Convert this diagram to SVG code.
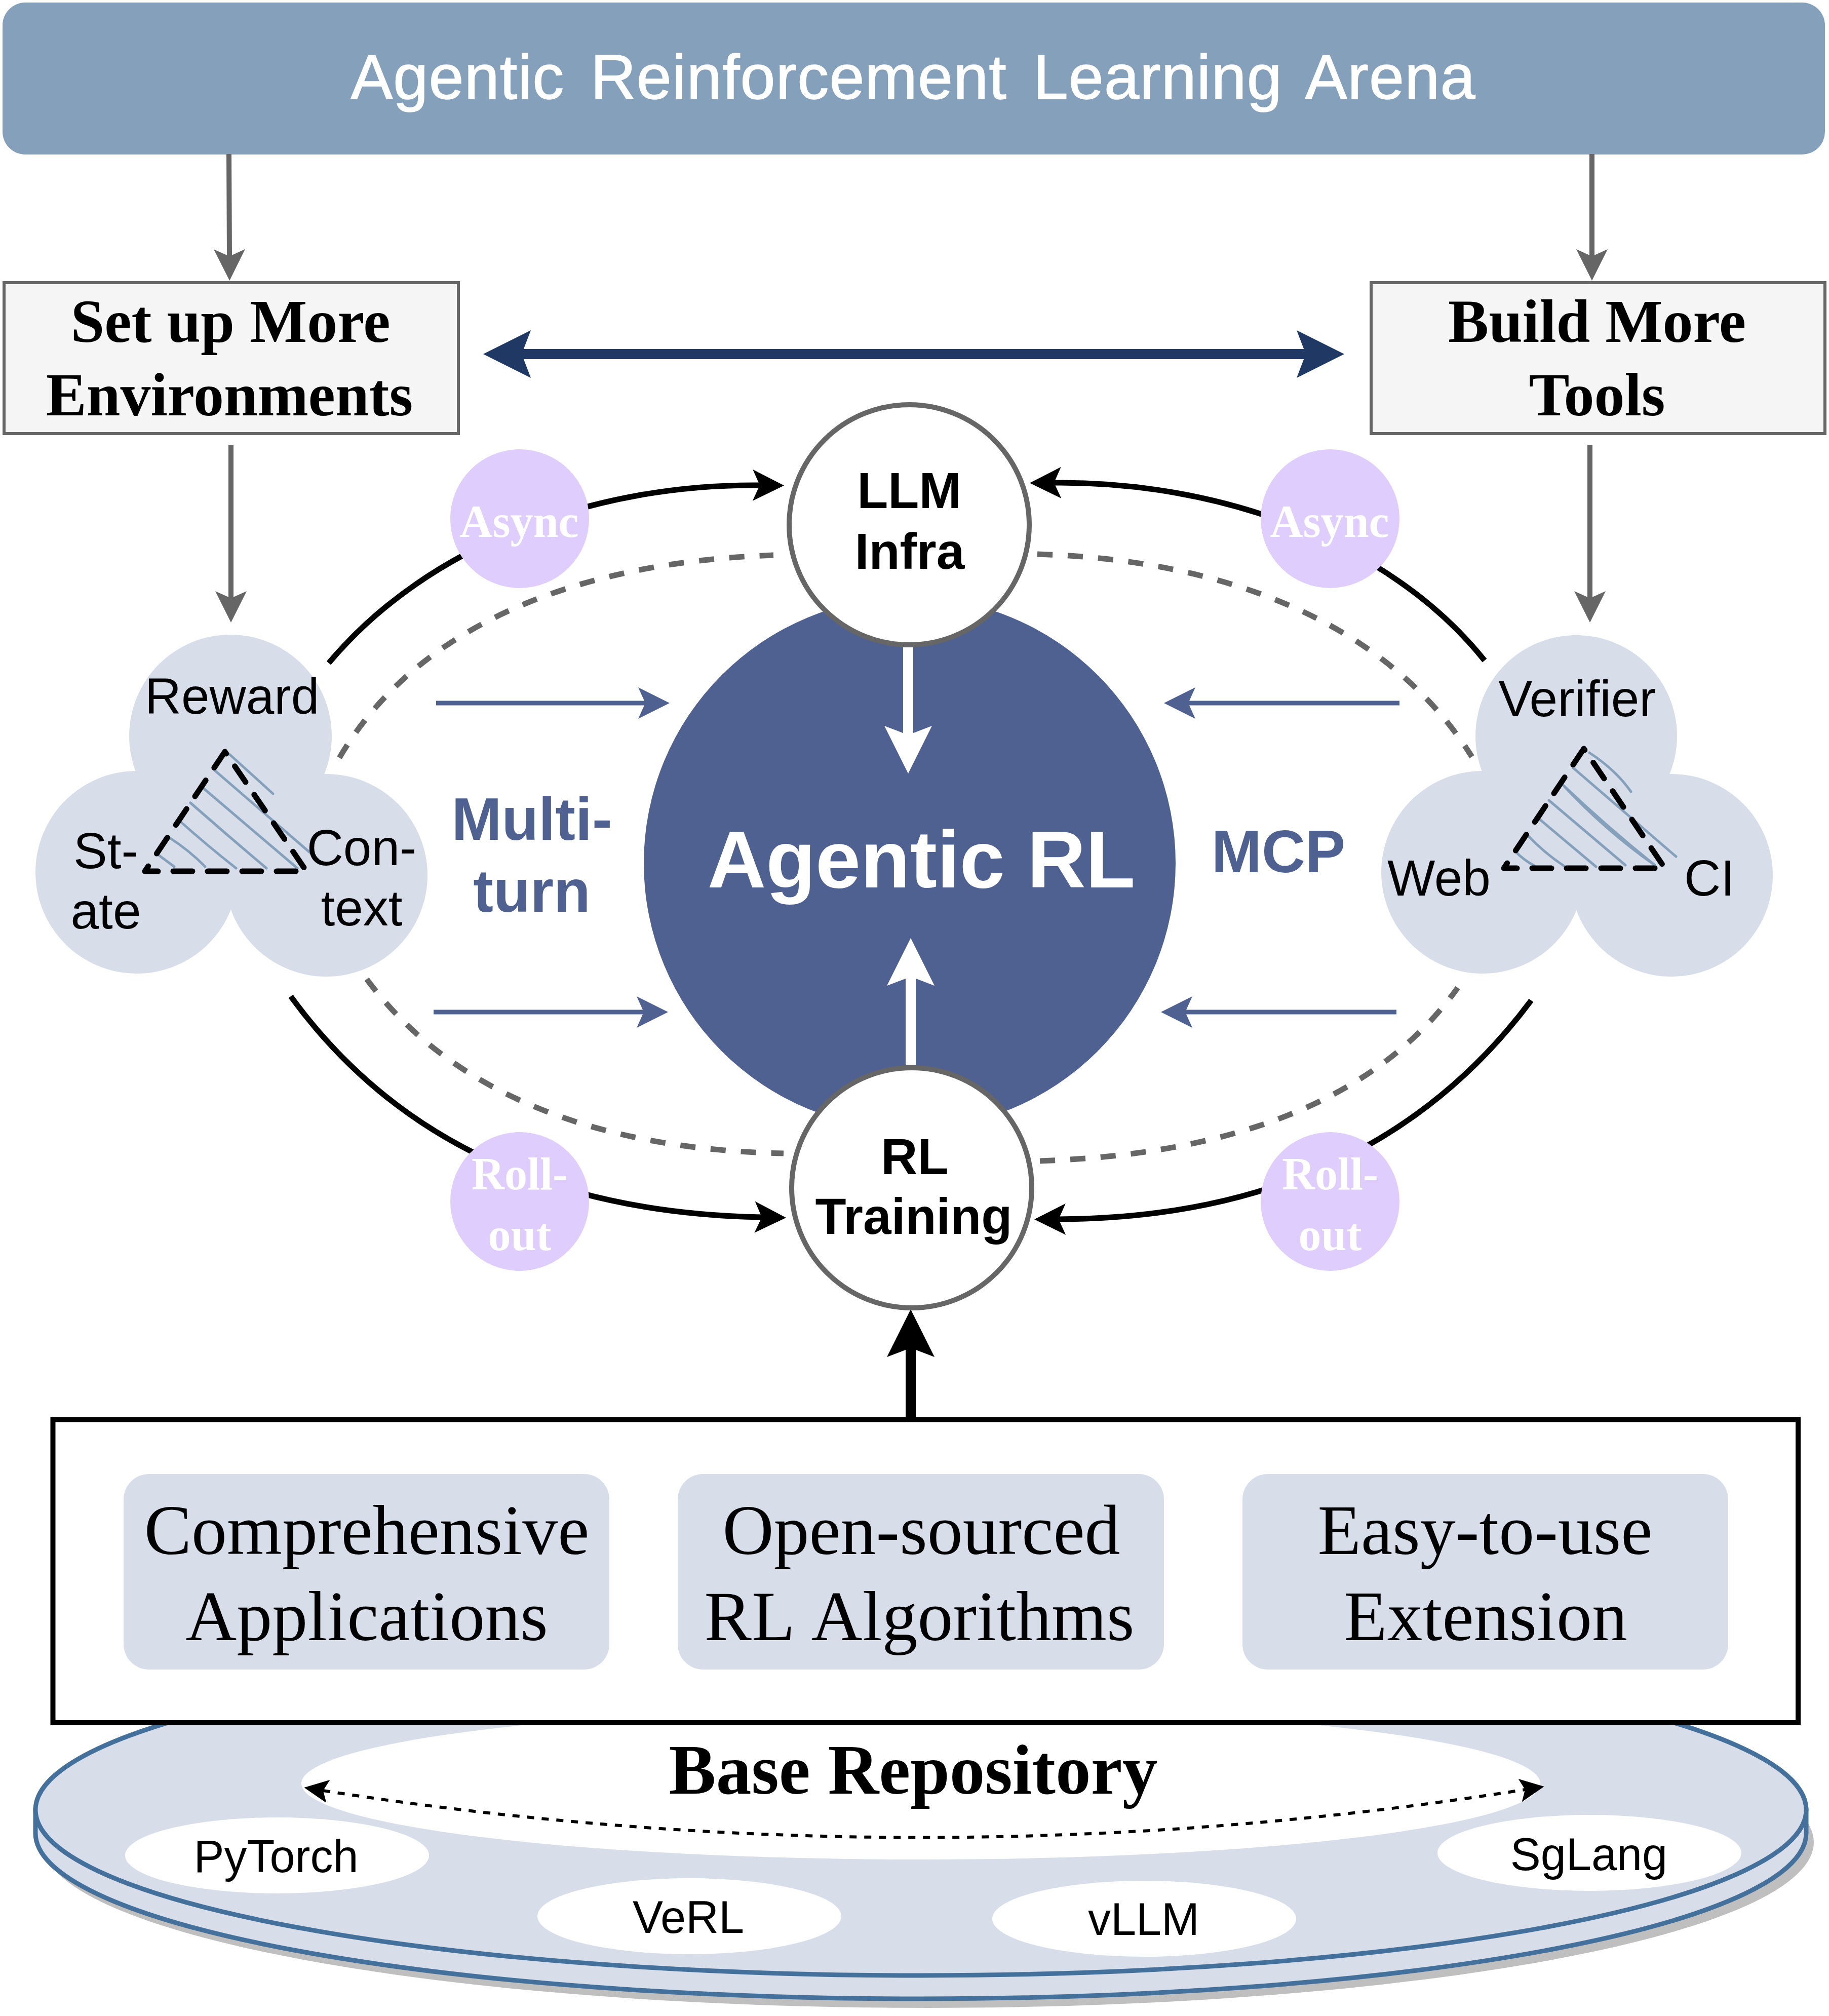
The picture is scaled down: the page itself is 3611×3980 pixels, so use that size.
<svg xmlns="http://www.w3.org/2000/svg" width="3611" height="3980" viewBox="0 0 3611 3980">
<style>
text{text-anchor:middle}
.sans{font-family:"Liberation Sans",Arial,sans-serif}
.serif{font-family:"Liberation Serif","Times New Roman",serif}
.b{font-weight:bold}
.blob{fill:#d7deea}
.badge{fill:#decdfd}
.badgetxt{font-family:"Liberation Serif",serif;font-weight:bold;font-size:90px;fill:#fff}
.hub{fill:#fff;stroke:#666;stroke-width:10}
.hubtxt{font-family:"Liberation Sans",sans-serif;font-weight:bold;font-size:100px;fill:#000}
.lbl{font-family:"Liberation Sans",sans-serif;font-size:100px;fill:#000}
.tool{font-family:"Liberation Sans",sans-serif;font-size:90px;fill:#000}
.card{fill:#d7deea}
.cardtxt{font-family:"Liberation Serif",serif;font-size:140px;fill:#000}
.boxt{fill:#f5f5f5;stroke:#666;stroke-width:6}
.boxtxt{font-family:"Liberation Serif",serif;font-weight:bold;font-size:120px;fill:#000}
.side{font-family:"Liberation Sans",sans-serif;font-weight:bold;font-size:119px;fill:#4e6190}
.wire{fill:none}
.grey{stroke:#666;stroke-width:10;marker-end:url(#mGrey)}
.arc{stroke:#000;stroke-width:11;marker-end:url(#mBlack)}
.dash{stroke:#666;stroke-width:11;stroke-dasharray:30 30}
.blue{stroke:#4e6190;stroke-width:9;marker-end:url(#mBlue)}
.tri{fill:none;stroke:#000;stroke-width:11;stroke-dasharray:38 30;stroke-linecap:round;stroke-linejoin:round}
.hatch{fill:none;stroke:#84a0bb;stroke-width:5;stroke-linecap:round}
.tiny{fill:#fff}
</style>
<defs>
<marker id="mGrey" markerUnits="userSpaceOnUse" markerWidth="62" markerHeight="62" refX="14" refY="31" orient="auto"><path d="M0 0L62 31L0 62L14 31Z" fill="#666"/></marker>
<marker id="mBlack" markerUnits="userSpaceOnUse" markerWidth="62" markerHeight="62" refX="14" refY="31" orient="auto"><path d="M0 0L62 31L0 62L14 31Z" fill="#000"/></marker>
<marker id="mBlue" markerUnits="userSpaceOnUse" markerWidth="62" markerHeight="62" refX="14" refY="31" orient="auto"><path d="M0 0L62 31L0 62L14 31Z" fill="#4e6190"/></marker>
<marker id="mWhite" markerUnits="userSpaceOnUse" markerWidth="94" markerHeight="94" refX="18" refY="47" orient="auto"><path d="M0 0L94 47L0 94L18 47Z" fill="#fff"/></marker>
<marker id="mBigBlack" markerUnits="userSpaceOnUse" markerWidth="94" markerHeight="94" refX="18" refY="47" orient="auto"><path d="M0 0L94 47L0 94L18 47Z" fill="#000"/></marker>
<marker id="mNavy" markerUnits="userSpaceOnUse" markerWidth="94" markerHeight="94" refX="18" refY="47" orient="auto-start-reverse"><path d="M0 0L94 47L0 94L18 47Z" fill="#1f3864"/></marker>
<marker id="mDot" markerUnits="userSpaceOnUse" markerWidth="48" markerHeight="46" refX="10" refY="23" orient="auto-start-reverse"><path d="M0 0L48 23L0 46L10 23Z" fill="#000"/></marker>
</defs>

<g id="repository">
<ellipse cx="1832" cy="3637" rx="1749" ry="327" fill="#bfbfbf"/>
<path d="M70 3573L70 3619A1748 327 0 0 0 3566 3619L3566 3573Z" fill="#d7deea" stroke="#44719b" stroke-width="9"/>
<ellipse cx="1818" cy="3573" rx="1748" ry="327" fill="#d7deea" stroke="#44719b" stroke-width="9"/>
<ellipse cx="1818" cy="3521" rx="1223" ry="150" fill="#fff"/>
<text class="serif b" x="1803" y="3541" font-size="139.500">Base Repository</text>
</g>
<g id="pytorch"><ellipse class="tiny" cx="547" cy="3663" rx="300" ry="75"/><text class="tool" x="545" y="3696">PyTorch</text></g>
<g id="verl"><ellipse class="tiny" cx="1361" cy="3783" rx="300" ry="75"/><text class="tool" x="1359" y="3816">VeRL</text></g>
<g id="vllm"><ellipse class="tiny" cx="2259" cy="3788" rx="300" ry="75"/><text class="tool" x="2258" y="3820">vLLM</text></g>
<g id="sglang"><ellipse class="tiny" cx="3138" cy="3658" rx="300" ry="75"/><text class="tool" x="3137" y="3692">SgLang</text></g>

<g id="title"><rect x="5" y="5" width="3598" height="300" rx="45" fill="#84a0bb"/>
<text class="sans" x="1803" y="195" font-size="124" fill="#fff" stroke="#fff" stroke-width="1.500" letter-spacing="1.200" word-spacing="16">Agentic Reinforcement Learning Arena</text></g>

<g id="env"><rect class="boxt" x="8" y="558" width="897" height="298"/>
<text class="boxtxt" x="455" y="675">Set up More</text><text class="boxtxt" x="453" y="820">Environments</text></g>
<g id="tools"><rect class="boxt" x="2707" y="558" width="896" height="298"/>
<text class="boxtxt" x="3153" y="675">Build More</text><text class="boxtxt" x="3153" y="820">Tools</text></g>

<g id="agentic-rl"><circle cx="1796" cy="1704" r="525" fill="#4e6190"/>
<text class="sans b" x="1819" y="1752" font-size="160" fill="#fff">Agentic RL</text></g>

<g id="connectors">
<path class="wire grey" d="M452 304L453 506"/>
<path class="wire grey" d="M3143 304L3143 506"/>
<path class="wire grey" d="M456 878L456 1181"/>
<path class="wire grey" d="M3139 878L3139 1181"/>
<path class="wire" stroke="#1f3864" stroke-width="20" marker-start="url(#mNavy)" marker-end="url(#mNavy)" d="M1030 699L2578 699"/>
<path class="wire arc" d="M649 1309C850 1070 1180 955 1500 958"/>
<path class="wire arc" d="M2931 1304C2740 1065 2400 950 2081 953"/>
<path class="wire arc" d="M574 1967C780 2250 1090 2395 1504 2403"/>
<path class="wire arc" d="M3023 1975C2810 2260 2500 2405 2090 2407"/>
<path class="wire dash" d="M670 1496C820 1240 1130 1110 1527 1096"/>
<path class="wire dash" d="M2048 1094C2420 1105 2740 1230 2906 1494"/>
<path class="wire dash" d="M724 1933C900 2170 1200 2270 1547 2277"/>
<path class="wire dash" d="M2053 2292C2400 2280 2705 2190 2878 1950"/>
<path class="wire blue" d="M861 1388L1274 1388"/>
<path class="wire blue" d="M2763 1388L2346 1388"/>
<path class="wire blue" d="M856 1998L1271 1998"/>
<path class="wire blue" d="M2757 1998L2340 1998"/>
<path class="wire" stroke="#fff" stroke-width="20" marker-end="url(#mWhite)" d="M1793 1278L1793 1451"/>
<path class="wire" stroke="#fff" stroke-width="20" marker-end="url(#mWhite)" d="M1798 2103L1798 1928"/>
<path class="wire" stroke="#000" stroke-width="20" marker-end="url(#mBigBlack)" d="M1798 2798L1798 2661"/>
<path class="wire" stroke="#000" stroke-width="6" stroke-dasharray="14 15" marker-start="url(#mDot)" marker-end="url(#mDot)" d="M638 3535Q1825 3721 3011 3533"/>
</g>

<g id="async-left"><circle class="badge" cx="1026" cy="1024" r="137"/><text class="badgetxt" x="1025" y="1060">Async</text></g>
<g id="async-right"><circle class="badge" cx="2626" cy="1024" r="137"/><text class="badgetxt" x="2625" y="1060">Async</text></g>
<g id="rollout-left"><circle class="badge" cx="1026" cy="2372" r="137"/><text class="badgetxt" x="1026" y="2348">Roll-</text><text class="badgetxt" x="1026" y="2468">out</text></g>
<g id="rollout-right"><circle class="badge" cx="2626" cy="2372" r="137"/><text class="badgetxt" x="2626" y="2348">Roll-</text><text class="badgetxt" x="2626" y="2468">out</text></g>

<g id="llm-infra"><circle class="hub" cx="1795" cy="1036" r="237"/><text class="hubtxt" x="1795" y="1003">LLM</text><text class="hubtxt" x="1796" y="1123">Infra</text></g>
<g id="rl-training"><circle class="hub" cx="1800" cy="2345" r="237"/><text class="hubtxt" x="1806" y="2318">RL</text><text class="hubtxt" x="1804" y="2436">Training</text></g>

<g id="multi-turn"><text class="side" x="1050" y="1658">Multi-</text><text class="side" x="1050" y="1800">turn</text></g>
<g id="mcp"><text class="side" x="2524" y="1722">MCP</text></g>

<g id="env-blob">
<circle class="blob" cx="455" cy="1453" r="200"/><circle class="blob" cx="270" cy="1722" r="200"/><circle class="blob" cx="644" cy="1728" r="200"/>
<path class="hatch" d="M309 1685L344 1711M335 1654Q375 1680 405 1711M354 1620Q410 1670 466 1714M376 1585Q450 1650 526 1714M399 1554L587 1714M424 1521L628 1697M453 1489L539 1567"/>
<path class="tri" d="M444 1484L286 1720L605 1720Z"/>
<text class="lbl" x="458" y="1409">Reward</text><text class="lbl" x="209" y="1714">St-</text><text class="lbl" x="209" y="1833">ate</text><text class="lbl" x="714" y="1708">Con-</text><text class="lbl" x="714" y="1827">text</text>
</g>
<g id="tool-blob">
<circle class="blob" cx="3112" cy="1453" r="199"/><circle class="blob" cx="2927" cy="1722" r="200"/><circle class="blob" cx="3300" cy="1728" r="200"/>
<path class="hatch" d="M2991 1680Q3008 1698 3029 1709M3016 1649Q3050 1685 3090 1711M3038 1616L3151 1711M3058 1580L3209 1708M3084 1548Q3170 1630 3267 1708M3084 1548Q3170 1640 3267 1708M3106 1516L3309 1691M3138 1486Q3190 1520 3220 1563"/>
<path class="tri" d="M3127 1478L2969 1714L3287 1714Z"/>
<text class="lbl" x="3114" y="1414">Verifier</text><text class="lbl" x="2841" y="1768">Web</text><text class="lbl" x="3375" y="1768">CI</text>
</g>

<g id="foundation"><rect x="104.500" y="2802.500" width="3445.500" height="598.500" fill="#fff" stroke="#000" stroke-width="10"/></g>
<g id="apps"><rect class="card" x="244" y="2910" width="959" height="386" rx="50"/><text class="cardtxt" x="724" y="3068">Comprehensive</text><text class="cardtxt" x="724" y="3238">Applications</text></g>
<g id="algos"><rect class="card" x="1338" y="2910" width="960" height="386" rx="50"/><text class="cardtxt" x="1819" y="3068">Open-sourced</text><text class="cardtxt" x="1815" y="3238" word-spacing="10">RL Algorithms</text></g>
<g id="ext"><rect class="card" x="2453" y="2910" width="959" height="386" rx="50"/><text class="cardtxt" x="2932" y="3068">Easy-to-use</text><text class="cardtxt" x="2933" y="3238">Extension</text></g>
</svg>
